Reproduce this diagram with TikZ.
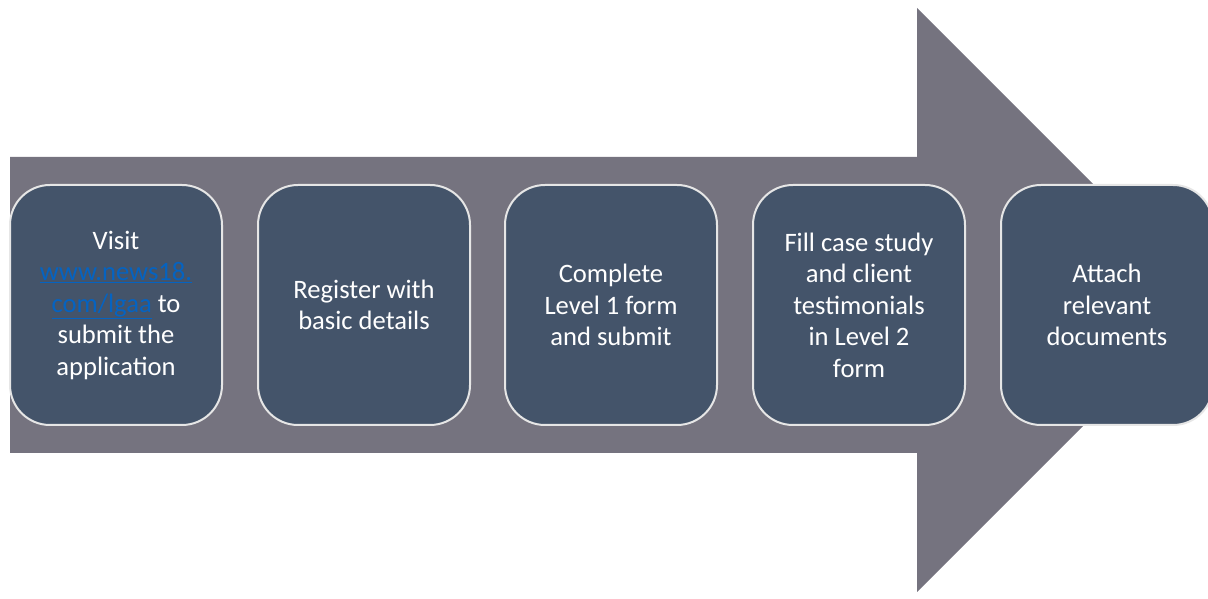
\documentclass[tikz,border=0pt]{standalone}
\usepackage{fontspec}
\setmainfont{Carlito}
\definecolor{arrowgray}{HTML}{75737F}
\definecolor{boxblue}{HTML}{44546A}
\definecolor{boxline}{HTML}{E6E6E6}
\definecolor{linkblue}{HTML}{0563C1}
\newcommand{\lnk}[1]{\textcolor{linkblue}{\underline{#1}}}
\begin{document}
\begin{tikzpicture}[x=1pt,y=1pt,
  stepbox/.style={draw=boxline, line width=2pt, fill=boxblue, rounded corners=40pt,
    minimum width=212pt, minimum height=240pt, text=white, align=center,
    font=\fontsize{26.6}{31.5}\selectfont, inner sep=0pt}]
\useasboundingbox (0,0) rectangle (1208,599);
\clip (0,0) rectangle (1208,599);
\fill[arrowgray] (10,{599-157}) -- (917,{599-157}) -- (917,{599-8}) -- (1209,{599-300})
  -- (917,{599-592}) -- (917,{599-453}) -- (10,{599-453}) -- cycle;
\node[stepbox] (s1) at (116,{599-305}) {Visit\\ \lnk{www.news18.}\\ \lnk{com/lgaa} to\\ submit the\\ application};
\node[stepbox] (s2) at (364,{599-305}) {Register with\\ basic details};
\node[stepbox] (s3) at (611,{599-305}) {Complete\\ Level 1 form\\ and submit};
\node[stepbox] (s4) at (859,{599-305}) {Fill case study\\ and client\\ testimonials\\ in Level 2\\ form};
\node[stepbox, text width=212pt] (s5) at (1107,{599-305}) {Attach\\ relevant\\ documents};
\end{tikzpicture}
\end{document}
